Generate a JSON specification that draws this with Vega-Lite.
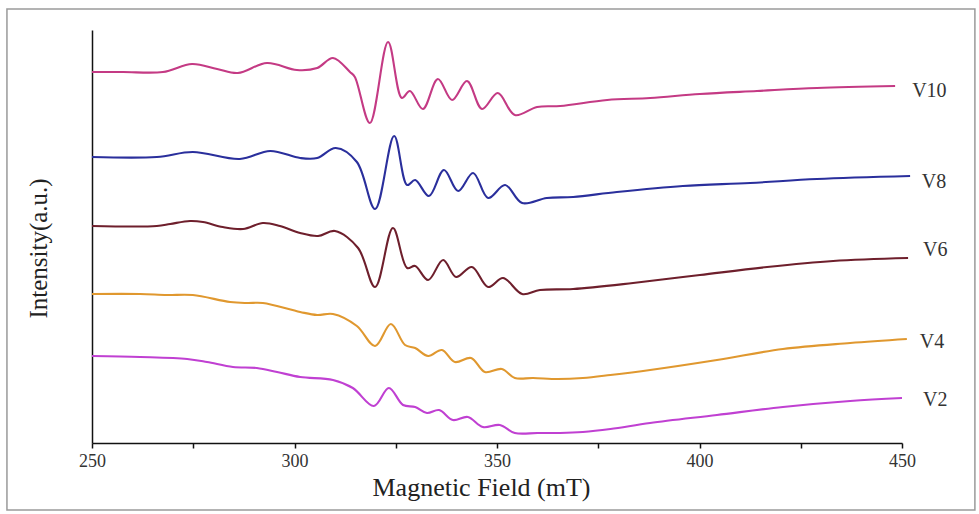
{
  "$schema": "https://vega.github.io/schema/vega-lite/v6.json",
  "autosize": {"type": "none"},
  "width": 810,
  "height": 413,
  "padding": {"left": 92, "top": 30, "right": 77, "bottom": 71},
  "background": "white",
  "config": {"view": {"stroke": null}},
  "datasets": {
    "spectra": [
      {"s":"V10","x":250,"y":371},{"s":"V10","x":257.7,"y":371},{"s":"V10","x":267.5,"y":371},{"s":"V10","x":274.7,"y":379},{"s":"V10","x":280.9,"y":374},{"s":"V10","x":286.0,"y":370},{"s":"V10","x":293.2,"y":380},{"s":"V10","x":300.6,"y":373},{"s":"V10","x":305.6,"y":375},{"s":"V10","x":309.5,"y":385},{"s":"V10","x":313.7,"y":371},{"s":"V10","x":314.9,"y":366},{"s":"V10","x":318.6,"y":320},{"s":"V10","x":323.1,"y":401},{"s":"V10","x":326.5,"y":345},{"s":"V10","x":328.5,"y":352},{"s":"V10","x":331.7,"y":334},{"s":"V10","x":335.4,"y":364},{"s":"V10","x":338.9,"y":343},{"s":"V10","x":342.6,"y":362},{"s":"V10","x":346.3,"y":334},{"s":"V10","x":350.2,"y":350},{"s":"V10","x":354.4,"y":328},{"s":"V10","x":359.9,"y":336},{"s":"V10","x":365.6,"y":337},{"s":"V10","x":377.2,"y":343},{"s":"V10","x":387.8,"y":345},{"s":"V10","x":400.1,"y":349},{"s":"V10","x":414.2,"y":352},{"s":"V10","x":429.0,"y":355},{"s":"V10","x":448.3,"y":357},
      {"s":"V8","x":250,"y":286},{"s":"V8","x":266.0,"y":286},{"s":"V8","x":274.9,"y":291},{"s":"V8","x":286.5,"y":284},{"s":"V8","x":294.0,"y":292},{"s":"V8","x":301.4,"y":285},{"s":"V8","x":305.6,"y":285},{"s":"V8","x":310.2,"y":295},{"s":"V8","x":315.4,"y":281},{"s":"V8","x":319.9,"y":234},{"s":"V8","x":324.6,"y":307},{"s":"V8","x":327.8,"y":258},{"s":"V8","x":329.8,"y":263},{"s":"V8","x":333.2,"y":247},{"s":"V8","x":336.9,"y":273},{"s":"V8","x":340.4,"y":252},{"s":"V8","x":344.1,"y":270},{"s":"V8","x":347.8,"y":245},{"s":"V8","x":352.0,"y":258},{"s":"V8","x":356.2,"y":240},{"s":"V8","x":362.3,"y":245},{"s":"V8","x":368.8,"y":246},{"s":"V8","x":379.6,"y":251},{"s":"V8","x":395.9,"y":257},{"s":"V8","x":412.5,"y":260},{"s":"V8","x":429.0,"y":264},{"s":"V8","x":452.0,"y":267},
      {"s":"V6","x":250,"y":217},{"s":"V6","x":266.0,"y":217},{"s":"V6","x":269.3,"y":219},{"s":"V6","x":274.2,"y":222},{"s":"V6","x":277.4,"y":221},{"s":"V6","x":282.3,"y":216},{"s":"V6","x":287.3,"y":214},{"s":"V6","x":292.2,"y":220},{"s":"V6","x":296.4,"y":217},{"s":"V6","x":301.4,"y":210},{"s":"V6","x":305.8,"y":207},{"s":"V6","x":310.0,"y":212},{"s":"V6","x":315.7,"y":195},{"s":"V6","x":319.9,"y":156},{"s":"V6","x":324.3,"y":215},{"s":"V6","x":327.8,"y":175},{"s":"V6","x":329.8,"y":177},{"s":"V6","x":333.0,"y":163},{"s":"V6","x":336.7,"y":183},{"s":"V6","x":339.9,"y":166},{"s":"V6","x":343.8,"y":176},{"s":"V6","x":347.8,"y":156},{"s":"V6","x":351.5,"y":165},{"s":"V6","x":356.2,"y":149},{"s":"V6","x":360.6,"y":153},{"s":"V6","x":368.8,"y":154},{"s":"V6","x":383.6,"y":160},{"s":"V6","x":400.1,"y":168},{"s":"V6","x":416.7,"y":176},{"s":"V6","x":433.0,"y":182},{"s":"V6","x":451.5,"y":185},
      {"s":"V4","x":250,"y":149},{"s":"V4","x":261.9,"y":149},{"s":"V4","x":268.5,"y":148},{"s":"V4","x":274.9,"y":148},{"s":"V4","x":284.1,"y":141},{"s":"V4","x":288.3,"y":140},{"s":"V4","x":292.2,"y":140},{"s":"V4","x":301.4,"y":131},{"s":"V4","x":305.6,"y":128},{"s":"V4","x":309.5,"y":129},{"s":"V4","x":315.4,"y":117},{"s":"V4","x":319.9,"y":97},{"s":"V4","x":323.8,"y":119},{"s":"V4","x":327.3,"y":98},{"s":"V4","x":329.8,"y":95},{"s":"V4","x":333.0,"y":87},{"s":"V4","x":336.4,"y":93},{"s":"V4","x":339.6,"y":81},{"s":"V4","x":343.6,"y":85},{"s":"V4","x":347.0,"y":71},{"s":"V4","x":351.2,"y":74},{"s":"V4","x":354.4,"y":65},{"s":"V4","x":358.9,"y":65},{"s":"V4","x":365.0,"y":64},{"s":"V4","x":371.2,"y":65},{"s":"V4","x":378.0,"y":68},{"s":"V4","x":387.8,"y":73},{"s":"V4","x":404.3,"y":83},{"s":"V4","x":420.6,"y":94},{"s":"V4","x":437.2,"y":100},{"s":"V4","x":451.2,"y":104},
      {"s":"V2","x":250,"y":87},{"s":"V2","x":261.9,"y":86},{"s":"V2","x":273.5,"y":84},{"s":"V2","x":278.4,"y":81},{"s":"V2","x":284.8,"y":76},{"s":"V2","x":290.7,"y":75},{"s":"V2","x":295.7,"y":71},{"s":"V2","x":301.4,"y":66},{"s":"V2","x":309.5,"y":63},{"s":"V2","x":314.4,"y":55},{"s":"V2","x":319.6,"y":37},{"s":"V2","x":323.3,"y":55},{"s":"V2","x":326.8,"y":38},{"s":"V2","x":329.8,"y":36},{"s":"V2","x":332.7,"y":30},{"s":"V2","x":335.7,"y":33},{"s":"V2","x":339.1,"y":23},{"s":"V2","x":342.8,"y":26},{"s":"V2","x":346.5,"y":16},{"s":"V2","x":350.7,"y":18},{"s":"V2","x":354.4,"y":10},{"s":"V2","x":360.0,"y":10},{"s":"V2","x":365.6,"y":10},{"s":"V2","x":371.2,"y":11},{"s":"V2","x":378.0,"y":14},{"s":"V2","x":387.8,"y":20},{"s":"V2","x":404.3,"y":28},{"s":"V2","x":420.6,"y":36},{"s":"V2","x":437.2,"y":42},{"s":"V2","x":450.0,"y":45}
    ],
    "labels": [
      {"s":"V10","x":452.5,"y":352},
      {"s":"V8","x":454.9,"y":261},
      {"s":"V6","x":455.2,"y":193},
      {"s":"V4","x":454.4,"y":101},
      {"s":"V2","x":455.2,"y":43}
    ]
  },
  "layer": [
    {
      "data": {"values": [{}]},
      "mark": {"type": "rect", "filled": false, "stroke": "#9a9a9a", "strokeWidth": 1.5, "clip": false},
      "encoding": {
        "x": {"datum": 229},
        "x2": {"datum": 468},
        "y": {"datum": 434},
        "y2": {"datum": -67}
      }
    },
    {
      "data": {"name": "spectra"},
      "mark": {"type": "line", "interpolate": "catmull-rom", "strokeWidth": 2.1, "clip": false},
      "encoding": {
        "x": {
          "field": "x", "type": "quantitative",
          "scale": {"domain": [250, 450], "nice": false, "zero": false},
          "axis": {
            "values": [250, 275, 300, 325, 350, 375, 400, 425, 450],
            "labelExpr": "datum.value % 50 === 0 ? datum.label : ''",
            "labelFlush": false, "labelOverlap": false,
            "grid": false, "tickSize": 5, "tickWidth": 1.5, "domainWidth": 1.5,
            "domainColor": "#111", "tickColor": "#111",
            "labelFont": "Liberation Serif", "labelFontSize": 18, "labelColor": "#333", "labelPadding": 4,
            "title": "Magnetic Field (mT)",
            "titleFont": "Liberation Serif", "titleFontSize": 26, "titleFontWeight": "normal", "titleColor": "#222",
            "titlePadding": 4, "titleX": 389
          }
        },
        "y": {
          "field": "y", "type": "quantitative",
          "scale": {"domain": [0, 413], "nice": false, "zero": false},
          "axis": {
            "ticks": false, "labels": false, "grid": false,
            "domainColor": "#111", "domainWidth": 1.5,
            "title": "Intensity(a.u.)",
            "titleFont": "Liberation Serif", "titleFontSize": 25, "titleFontWeight": "normal", "titleColor": "#222",
            "titleAngle": -90, "titleX": -54, "titleY": 218, "titleAlign": "center", "titleBaseline": "middle"
          }
        },
        "color": {
          "field": "s", "type": "nominal",
          "scale": {"domain": ["V10", "V8", "V6", "V4", "V2"], "range": ["#c43a84", "#2a2f9c", "#6e1f2c", "#e0982f", "#c040d2"]},
          "legend": null
        },
        "detail": {"field": "s"}
      }
    },
    {
      "data": {"name": "labels"},
      "mark": {"type": "text", "align": "left", "baseline": "middle", "font": "Liberation Serif", "fontSize": 20, "color": "#333", "clip": false},
      "encoding": {
        "x": {"field": "x", "type": "quantitative"},
        "y": {"field": "y", "type": "quantitative"},
        "text": {"field": "s"}
      }
    }
  ]
}
